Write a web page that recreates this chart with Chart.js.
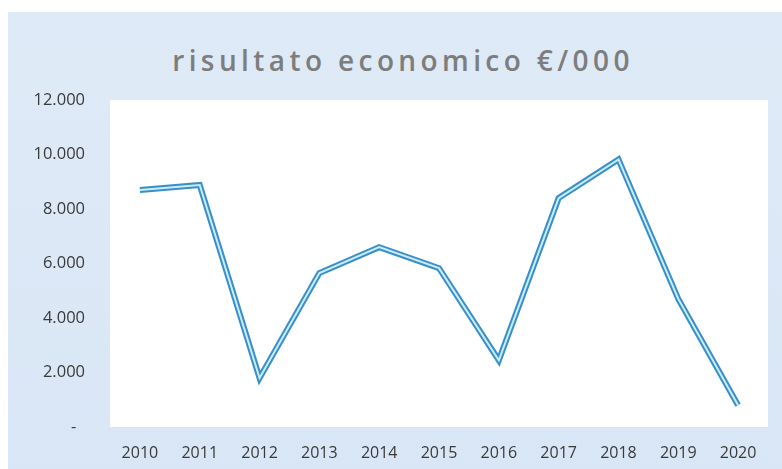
<!DOCTYPE html>
<html>
<head>
<meta charset="utf-8">
<script src="https://cdn.jsdelivr.net/npm/chart.js@4/dist/chart.umd.min.js"></script>
<style>
  html, body { margin: 0; padding: 0; background: #fff; }
  #box {
    position: absolute; left: 8px; top: 12px; width: 774px; height: 457px;
    background: linear-gradient(180deg, #dfeaf7 0%, #d9e6f5 100%);
  }
  #title {
    position: absolute; left: 8px; top: 29px; width: 100%; text-align: center;
    font-family: "Open Sans", sans-serif; font-size: 28px; letter-spacing: 4.4px;
    color: #7d7d7d; font-weight: 600;
  }
  #wrap { position: absolute; left: 0; top: 0; width: 774px; height: 457px; }
</style>
</head>
<body>
<div id="box">
  <div id="title">risultato economico €/000</div>
  <div id="wrap"><canvas id="myChart"></canvas></div>
</div>
<script>
var anni = ['2010', '2011', '2012', '2013', '2014', '2015', '2016', '2017', '2018', '2019', '2020'];
var risultato = [8700, 8880, 1800, 5650, 6600, 5830, 2450, 8400, 9820, 4700, 800];
var yTicks = [0, 2000, 4000, 6000, 8000, 10000, 12000];

// sfondo bianco dell'area del grafico
var plotBg = {
    id: 'plotBg',
    beforeDraw: function(chart) {
        var a = chart.chartArea;
        var c = chart.ctx;
        c.save();
        c.fillStyle = '#ffffff';
        c.fillRect(a.left, a.top, a.right - a.left, a.bottom - a.top);
        c.restore();
    }
};

var ctx = document.getElementById('myChart').getContext('2d');
var chart = new Chart(ctx, {
    type: 'line',
    data: {
        labels: anni,
        datasets: [{
            // linea interna chiara
            data: risultato,
            borderColor: '#c8eefb',
            borderWidth: 2,
            pointRadius: 0,
            tension: 0,
            order: 1
        }, {
            // bordo blu esterno
            data: risultato,
            borderColor: '#3a8fc8',
            borderWidth: 6,
            pointRadius: 0,
            tension: 0,
            order: 2
        }]
    },
    options: {
        responsive: true,
        maintainAspectRatio: false,
        animation: false,
        layout: { padding: { top: 88, right: 14, left: 0, bottom: 0 } },
        plugins: {
            legend: { display: false },
            tooltip: { enabled: false }
        },
        scales: {
            x: {
                offset: true,
                grid: { display: false, drawTicks: false },
                border: { display: false },
                ticks: {
                    color: '#3a3a3a',
                    font: { family: 'Open Sans', size: 16 },
                    padding: 17,
                    maxRotation: 0
                },
                afterFit: function(scale) { scale.height = 42; }
            },
            y: {
                min: 0,
                max: 12000,
                grid: { display: false, drawTicks: false },
                border: { display: false },
                afterBuildTicks: function(scale) {
                    scale.ticks = yTicks.map(function(v) { return { value: v }; });
                },
                ticks: {
                    color: '#3a3a3a',
                    font: { family: 'Open Sans', size: 16.5 },
                    padding: 25,
                    callback: function(v) {
                        if (v === 0) return '-  ';
                        return v.toString().replace(/\B(?=(\d{3})+(?!\d))/g, '.');
                    }
                },
                afterFit: function(scale) { scale.width = 102; }
            }
        }
    },
    plugins: [plotBg]
});
</script>
</body>
</html>
